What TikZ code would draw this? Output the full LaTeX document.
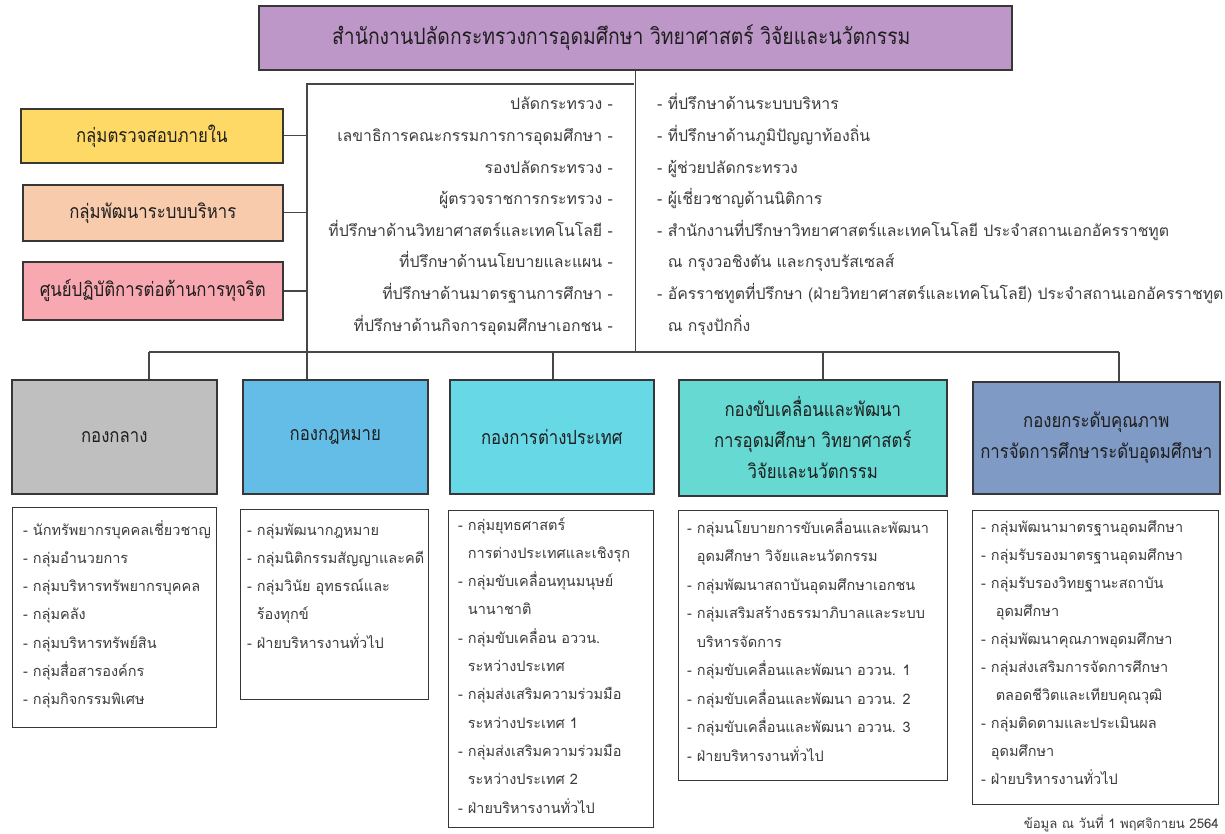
\documentclass[tikz,border=0pt]{standalone}
\usepackage{fontspec}
\newfontfamily\thai[Script=Thai]{Loma}
\newfontfamily\thaic[Script=Thai,FakeStretch=0.86]{Loma}
\definecolor{cTop}{RGB}{190,151,201}
\definecolor{cYel}{RGB}{255,217,102}
\definecolor{cPeach}{RGB}{248,203,173}
\definecolor{cPink}{RGB}{247,168,176}
\definecolor{cGray}{RGB}{191,191,191}
\definecolor{cBlue}{RGB}{100,189,230}
\definecolor{cCyan}{RGB}{102,216,230}
\definecolor{cTeal}{RGB}{102,217,210}
\definecolor{cSlate}{RGB}{127,154,197}
\definecolor{cEdge}{RGB}{55,55,55}
\definecolor{cLine}{RGB}{70,70,70}
\definecolor{cTxt}{RGB}{60,60,60}
\definecolor{cHead}{RGB}{30,30,30}
\begin{document}
\begin{tikzpicture}[x=1pt,y=-1pt,
  hbox/.style={draw=cEdge, line width=1.6pt, inner sep=0pt, anchor=north west,
    align=center, text=cHead, font=\thaic\fontsize{19.5}{31}\selectfont},
  lbox/.style={draw=cEdge, line width=1.2pt, fill=white, inner sep=0pt, anchor=north west},
  conn/.style={draw=cLine, line width=1.4pt},
  lst/.style={inner sep=0pt, text=cTxt, font=\thai\fontsize{14.5}{17}\selectfont},
  lstm/.style={lst, font=\thai\fontsize{15.8}{18}\selectfont}]
\useasboundingbox (0,0) rectangle (1225,834);

% top box
\node[hbox, fill=cTop, minimum width=753pt, minimum height=64pt,
  font=\thaic\fontsize{22.5}{26}\selectfont] (top) at (258,5)
  {สำนักงานปลัดกระทรวงการอุดมศึกษา วิทยาศาสตร์ วิจัยและนวัตกรรม\hspace*{28pt}};

% left groups
\node[hbox, fill=cYel, minimum width=262pt, minimum height=54pt] (g1) at (20,108) {กลุ่มตรวจสอบภายใน};
\node[hbox, fill=cPeach, minimum width=260pt, minimum height=56pt] (g2) at (22,184) {กลุ่มพัฒนาระบบบริหาร};
\node[hbox, fill=cPink, minimum width=260pt, minimum height=58pt] (g3) at (22,261) {ศูนย์ปฏิบัติการต่อต้านการทุจริต};

% divisions
\node[hbox, fill=cGray, minimum width=205pt, minimum height=114pt] (b1) at (11,379) {กองกลาง};
\node[hbox, fill=cBlue, minimum width=185pt, minimum height=114pt] (b2) at (242,379) {กองกฎหมาย};
\node[hbox, fill=cCyan, minimum width=204pt, minimum height=114pt] (b3) at (449,379) {กองการต่างประเทศ};
\node[hbox, fill=cTeal, minimum width=268pt, minimum height=116pt] (b4) at (678,379)
  {กองขับเคลื่อนและพัฒนา\\การอุดมศึกษา วิทยาศาสตร์\\วิจัยและนวัตกรรม};
\node[hbox, fill=cSlate, minimum width=247pt, minimum height=112pt] (b5) at (972,381)
  {กองยกระดับคุณภาพ\\การจัดการศึกษาระดับอุดมศึกษา};

% list boxes
\node[lbox, minimum width=204pt, minimum height=220pt] (s1) at (12,507) {};
\node[lbox, minimum width=188pt, minimum height=190pt] (s2) at (240,509) {};
\node[lbox, minimum width=205pt, minimum height=317pt] (s3) at (448,510) {};
\node[lbox, minimum width=269pt, minimum height=270pt] (s4) at (678,510) {};
\node[lbox, minimum width=246pt, minimum height=294pt] (s5) at (972,510) {};

% connectors
\coordinate (jt) at (634,84);
\coordinate (jl) at (307,84);
\coordinate (bl) at (149,352);
\coordinate (br) at (1119,352);
\coordinate (k3) at (553,352);
\coordinate (k4) at (823,352);
\draw[conn] (top.south) -- (top.south |- bl);
\draw[conn] (jt) -- (jl) -- (jl |- b2.north);
\draw[conn] (g1.east) -- (g1.east -| jl);
\draw[conn] (g2.east) -- (g2.east -| jl);
\draw[conn] (g3.east) -- (g3.east -| jl);
\draw[conn] (bl) -- (br);
\draw[conn] (bl) -- (bl |- b1.north);
\draw[conn] (k3) -- (k3 |- b3.north);
\draw[conn] (k4) -- (k4 |- b4.north);
\draw[conn] (br) -- (br |- b5.north);

% middle lists
\foreach \t [count=\i] in {{ปลัดกระทรวง -},{เลขาธิการคณะกรรมการการอุดมศึกษา -},{รองปลัดกระทรวง -},
  {ผู้ตรวจราชการกระทรวง -},{ที่ปรึกษาด้านวิทยาศาสตร์และเทคโนโลยี -},{ที่ปรึกษาด้านนโยบายและแผน -},
  {ที่ปรึกษาด้านมาตรฐานการศึกษา -},{ที่ปรึกษาด้านกิจการอุดมศึกษาเอกชน -}}
  \node[lstm, anchor=base east] (m\i) at (613,{110+31.6*(\i-1)}) {\t};
\foreach \t [count=\i] in {{- ที่ปรึกษาด้านระบบบริหาร},{- ที่ปรึกษาด้านภูมิปัญญาท้องถิ่น},{- ผู้ช่วยปลัดกระทรวง},
  {- ผู้เชี่ยวชาญด้านนิติการ},{- สำนักงานที่ปรึกษาวิทยาศาสตร์และเทคโนโลยี ประจำสถานเอกอัครราชทูต},
  {\hphantom{- }ณ กรุงวอชิงตัน และกรุงบรัสเซลส์},
  {- อัครราชทูตที่ปรึกษา (ฝ่ายวิทยาศาสตร์และเทคโนโลยี) ประจำสถานเอกอัครราชทูต},
  {\hphantom{- }ณ กรุงปักกิ่ง}}
  \node[lstm, anchor=base west] (r\i) at (657,{110+31.6*(\i-1)}) {\t};

% division lists
\foreach \t [count=\i] in {{- นักทรัพยากรบุคคลเชี่ยวชาญ},{- กลุ่มอำนวยการ},{- กลุ่มบริหารทรัพยากรบุคคล},
  {- กลุ่มคลัง},{- กลุ่มบริหารทรัพย์สิน},{- กลุ่มสื่อสารองค์กร},{- กลุ่มกิจกรรมพิเศษ}}
  \node[lst, anchor=base west] (t1\i) at (23,{535+28.3*(\i-1)}) {\t};
\foreach \t [count=\i] in {{- กลุ่มพัฒนากฎหมาย},{- กลุ่มนิติกรรมสัญญาและคดี},{- กลุ่มวินัย อุทธรณ์และ},
  {\hphantom{- }ร้องทุกข์},{- ฝ่ายบริหารงานทั่วไป}}
  \node[lst, anchor=base west] (t2\i) at (247,{535+28.3*(\i-1)}) {\t};
\foreach \t [count=\i] in {{- กลุ่มยุทธศาสตร์},{\hphantom{- }การต่างประเทศและเชิงรุก},{- กลุ่มขับเคลื่อนทุนมนุษย์},
  {\hphantom{- }นานาชาติ},{- กลุ่มขับเคลื่อน อววน.},{\hphantom{- }ระหว่างประเทศ},{- กลุ่มส่งเสริมความร่วมมือ},
  {\hphantom{- }ระหว่างประเทศ 1},{- กลุ่มส่งเสริมความร่วมมือ},{\hphantom{- }ระหว่างประเทศ 2},{- ฝ่ายบริหารงานทั่วไป}}
  \node[lst, anchor=base west] (t3\i) at (458,{530+28.3*(\i-1)}) {\t};
\foreach \t [count=\i] in {{- กลุ่มนโยบายการขับเคลื่อนและพัฒนา},{\hphantom{- }อุดมศึกษา วิจัยและนวัตกรรม},
  {- กลุ่มพัฒนาสถาบันอุดมศึกษาเอกชน},{- กลุ่มเสริมสร้างธรรมาภิบาลและระบบ},{\hphantom{- }บริหารจัดการ},
  {- กลุ่มขับเคลื่อนและพัฒนา อววน. 1},{- กลุ่มขับเคลื่อนและพัฒนา อววน. 2},{- กลุ่มขับเคลื่อนและพัฒนา อววน. 3},
  {- ฝ่ายบริหารงานทั่วไป}}
  \node[lst, anchor=base west] (t4\i) at (687,{533+28.5*(\i-1)}) {\t};
\foreach \t [count=\i] in {{- กลุ่มพัฒนามาตรฐานอุดมศึกษา},{- กลุ่มรับรองมาตรฐานอุดมศึกษา},{- กลุ่มรับรองวิทยฐานะสถาบัน},
  {\hphantom{- } อุดมศึกษา},{- กลุ่มพัฒนาคุณภาพอุดมศึกษา},{- กลุ่มส่งเสริมการจัดการศึกษา},
  {\hphantom{- } ตลอดชีวิตและเทียบคุณวุฒิ},{- กลุ่มติดตามและประเมินผล},{\hphantom{- }อุดมศึกษา},{- ฝ่ายบริหารงานทั่วไป}}
  \node[lst, anchor=base west] (t5\i) at (981,{532+28.1*(\i-1)}) {\t};

% footer
\node[lst, anchor=base east, font=\thai\fontsize{13.2}{16}\selectfont] (foot) at (1219,828) {ข้อมูล ณ วันที่ 1 พฤศจิกายน 2564};
\end{tikzpicture}
\end{document}
